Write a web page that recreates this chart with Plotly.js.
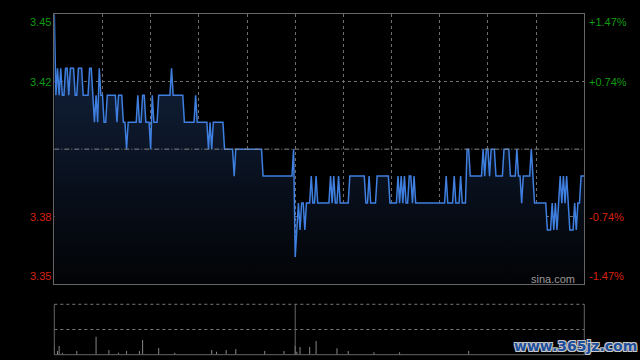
<!DOCTYPE html>
<html>
<head>
<meta charset="utf-8">
<script src="https://cdn.plot.ly/plotly-3.0.1.min.js"></script>
<style>
  html, body { margin: 0; padding: 0; background: #000; }
  #chart { width: 640px; height: 360px; }
</style>
</head>
<body>
<div id="chart"></div>
<script>
// ---- data (minute index since 09:30, lunch break collapsed at 150 = 12:00/13:00) ----
const prevClose = 3.40;

const price = [
  3.45,3.42,3.43,3.42,3.43,3.42,3.42,3.43,3.43,3.42,
  3.43,3.43,3.43,3.42,3.42,3.43,3.43,3.43,3.42,3.42,
  3.42,3.42,3.43,3.43,3.42,3.41,3.42,3.41,3.43,3.42,
  3.42,3.41,3.41,3.42,3.42,3.42,3.42,3.42,3.42,3.41,
  3.42,3.42,3.42,3.41,3.41,3.40,3.41,3.41,3.41,3.41,
  3.41,3.41,3.42,3.41,3.41,3.42,3.42,3.41,3.41,3.41,
  3.40,3.42,3.41,3.41,3.41,3.42,3.42,3.42,3.42,3.42,
  3.42,3.42,3.42,3.43,3.42,3.42,3.42,3.42,3.42,3.42,
  3.42,3.41,3.41,3.41,3.41,3.41,3.41,3.41,3.42,3.41,
  3.41,3.41,3.41,3.41,3.41,3.41,3.40,3.41,3.40,3.41,
  3.41,3.41,3.41,3.41,3.41,3.41,3.40,3.40,3.40,3.40,
  3.40,3.40,3.39,3.40,3.40,3.40,3.40,3.40,3.40,3.40,
  3.40,3.40,3.40,3.40,3.40,3.40,3.40,3.40,3.40,3.40,
  3.39,3.39,3.39,3.39,3.39,3.39,3.39,3.39,3.39,3.39,
  3.39,3.39,3.39,3.39,3.39,3.39,3.39,3.39,3.39,3.40,
  3.36,3.37,3.38,3.37,3.38,3.38,3.37,3.38,3.38,3.38,
  3.39,3.38,3.38,3.39,3.38,3.38,3.38,3.38,3.38,3.38,
  3.38,3.38,3.39,3.38,3.39,3.38,3.38,3.39,3.38,3.38,
  3.38,3.38,3.38,3.38,3.39,3.39,3.39,3.39,3.39,3.39,
  3.39,3.39,3.39,3.39,3.38,3.38,3.39,3.38,3.38,3.38,
  3.38,3.39,3.39,3.39,3.39,3.39,3.39,3.39,3.39,3.38,
  3.38,3.38,3.38,3.38,3.39,3.38,3.39,3.38,3.39,3.38,
  3.38,3.39,3.39,3.38,3.39,3.38,3.38,3.38,3.38,3.38,
  3.38,3.38,3.38,3.38,3.38,3.38,3.38,3.38,3.38,3.38,
  3.38,3.38,3.38,3.38,3.39,3.38,3.38,3.38,3.38,3.39,
  3.38,3.38,3.38,3.39,3.38,3.38,3.38,3.40,3.40,3.39,
  3.39,3.39,3.39,3.39,3.39,3.39,3.39,3.40,3.39,3.40,
  3.40,3.39,3.40,3.40,3.40,3.39,3.39,3.39,3.39,3.39,
  3.40,3.40,3.40,3.40,3.39,3.39,3.39,3.39,3.40,3.39,
  3.39,3.38,3.39,3.39,3.39,3.39,3.39,3.40,3.39,3.38,
  3.38,3.38,3.38,3.38,3.38,3.38,3.38,3.37,3.37,3.37,
  3.38,3.37,3.38,3.37,3.38,3.39,3.38,3.39,3.38,3.39,
  3.38,3.37,3.37,3.37,3.38,3.37,3.38,3.38,3.39,3.39,
  3.39
];
const minutes = price.map((_, i) => i);

// visible volume bars (minute index, volume)
const volMinute = [0, 2, 3, 5, 14, 26, 34, 40, 45, 53, 55, 65, 75, 98, 101, 107, 113, 131, 143,
                   150, 151, 153, 159, 163, 176, 183, 199, 215, 258];
const volValue  = [90, 37, 87, 20, 37, 177, 47, 20, 37, 37, 147, 67, 20, 47, 30, 47, 57, 37, 37,
                   87, 30, 77, 77, 137, 63, 37, 25, 25, 37];

const priceTicks = [3.45, 3.425, 3.375, 3.35];
const priceLabels = ['3.45', '3.42', '3.38', '3.35'];
const pctLabels = ['+1.47%', '+0.74%', '-0.74%', '-1.47%'];
const gridMinutes = [30, 60, 90, 120, 150, 180, 210, 240, 270, 300];
const lunchMinute = 150;

// ---- styling / layout ----
const W = 640, H = 360;
const xDom = [54.3 / W, 584.3 / W];
const mainDom = [(H - 284) / H, (H - 14.3) / H];
const volDom = [(H - 354.7) / H, (H - 304.3) / H];
const green = '#109a10', red = '#d8200e';
const labelFont = { family: 'Liberation Sans, Arial, sans-serif', size: 11 };

const traces = [
  {
    x: minutes, y: price, type: 'scatter', mode: 'lines',
    line: { color: '#3f7fe0', width: 1.5 },
    fill: 'tozeroy',
    fillgradient: {
      type: 'vertical', start: 3.35, stop: 3.45,
      colorscale: [[0, '#020305'], [0.45, '#0a1322'], [1, '#152644']]
    },
    xaxis: 'x', yaxis: 'y', hoverinfo: 'skip'
  },
  {
    x: volMinute, y: volValue, type: 'bar', width: 0.6,
    marker: { color: '#8a8a8a', line: { width: 0 } },
    xaxis: 'x2', yaxis: 'y2', hoverinfo: 'skip'
  }
];

const annotations = [];
priceTicks.forEach((v, i) => {
  const col = v > prevClose ? green : red;
  const ya = i === 0 ? 'top' : (i === priceTicks.length - 1 ? 'bottom' : 'middle');
  annotations.push({
    xref: 'paper', yref: 'y', x: xDom[0], y: v, xanchor: 'right', yanchor: ya,
    xshift: -1, text: priceLabels[i], showarrow: false,
    font: Object.assign({ color: col }, labelFont)
  });
  annotations.push({
    xref: 'paper', yref: 'y', x: xDom[1], y: v, xanchor: 'left', yanchor: ya,
    xshift: 3, text: pctLabels[i], showarrow: false,
    font: Object.assign({ color: col }, labelFont)
  });
});
annotations.push({
  xref: 'paper', yref: 'paper', x: 552.5 / W, y: (H - 279) / H,
  xanchor: 'center', yanchor: 'middle', text: 'sina.com', showarrow: false,
  font: { family: 'Liberation Sans, Arial, sans-serif', size: 11, color: '#9a9a9a' }
});
annotations.push({
  xref: 'paper', yref: 'paper', x: 575 / W, y: (H - 345.5) / H,
  xanchor: 'center', yanchor: 'middle', text: 'www.365jz.com', showarrow: false,
  font: { family: 'DejaVu Sans, sans-serif', size: 14, weight: 700, color: '#1d4f9c',
          shadow: '1px 1px 0 #c8c8c8, -1px -1px 0 #c8c8c8, 1px -1px 0 #c8c8c8, -1px 1px 0 #c8c8c8' }
});

const shapes = [
  // previous close reference line
  { type: 'line', xref: 'x domain', yref: 'y', x0: 0, x1: 1, y0: prevClose, y1: prevClose,
    line: { color: '#8a8a8a', width: 1, dash: '5px,2px,1px,2px' } },
  // volume panel frame
  { type: 'line', xref: 'x2 domain', yref: 'y2 domain', x0: 0, x1: 1, y0: 1, y1: 1,
    line: { color: '#777', width: 1, dash: 'dot' } },
  { type: 'line', xref: 'x2 domain', yref: 'y2 domain', x0: 0, x1: 1, y0: 0.5, y1: 0.5,
    line: { color: '#777', width: 1, dash: 'dot' } },
  { type: 'line', xref: 'x2 domain', yref: 'y2 domain', x0: 0, x1: 1, y0: 0, y1: 0,
    line: { color: '#666', width: 1 } },
  { type: 'line', xref: 'x2 domain', yref: 'y2 domain', x0: 0, x1: 0, y0: 0, y1: 1,
    line: { color: '#666', width: 1 } },
  { type: 'line', xref: 'x2 domain', yref: 'y2 domain', x0: 1, x1: 1, y0: 0, y1: 1,
    line: { color: '#666', width: 1 } },
  { type: 'line', xref: 'x2', yref: 'y2 domain', x0: lunchMinute, x1: lunchMinute, y0: 0, y1: 1,
    line: { color: '#666', width: 1 } }
];

const layout = {
  width: W, height: H,
  margin: { l: 0, r: 0, t: 0, b: 0, pad: 0 },
  paper_bgcolor: '#000', plot_bgcolor: '#000',
  showlegend: false,
  xaxis: {
    domain: xDom, range: [0, 330], tickvals: gridMinutes, showticklabels: false, ticks: '',
    showgrid: true, gridcolor: '#6e6e6e', griddash: 'dot', gridwidth: 1,
    zeroline: false, showline: true, mirror: true, linecolor: '#666', linewidth: 1, fixedrange: true
  },
  yaxis: {
    domain: mainDom, range: [3.35, 3.45], tickvals: [3.425, 3.375], showticklabels: false, ticks: '',
    showgrid: true, gridcolor: '#6e6e6e', griddash: 'dot', gridwidth: 1,
    zeroline: false, showline: true, mirror: true, linecolor: '#666', linewidth: 1, fixedrange: true
  },
  xaxis2: {
    domain: xDom, range: [0, 330], anchor: 'y2', showticklabels: false, ticks: '',
    showgrid: false, zeroline: false, showline: false, fixedrange: true
  },
  yaxis2: {
    domain: volDom, range: [0, 500], anchor: 'x2', showticklabels: false, ticks: '',
    showgrid: false, zeroline: false, showline: false, fixedrange: true
  },
  annotations: annotations,
  shapes: shapes
};

Plotly.newPlot('chart', traces, layout, { displayModeBar: false, staticPlot: true });
</script>
</body>
</html>
